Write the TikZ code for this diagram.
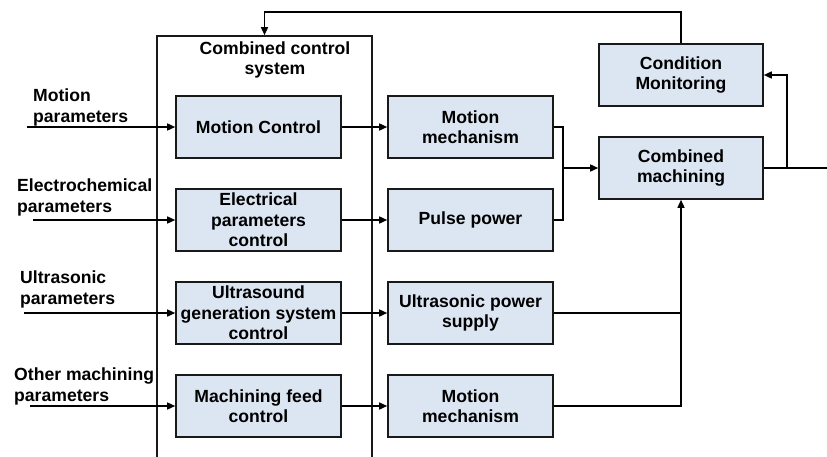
\documentclass[tikz,border=0pt]{standalone}
\usepackage{fontspec}
\setmainfont{Liberation Sans}
\usetikzlibrary{positioning, arrows.meta}

\definecolor{boxblue}{HTML}{DCE6F2}

\tikzset{
  blockbox/.style={draw=black!90, line width=1.6pt, fill=boxblue, align=center,
    minimum width=165pt, minimum height=62pt, inner sep=1pt},
  outerbox/.style={draw=black!90, line width=1.6pt, fill=white,
    minimum width=215pt, minimum height=440pt},
  arr/.style={line width=1.5pt, -{Triangle[length=8pt, width=7pt]}},
  link/.style={line width=1.5pt},
  paramlabel/.style={anchor=west, align=left, inner sep=0pt}
}

\begin{document}
\begin{tikzpicture}[x=1pt, y=-1pt, font=\fontsize{17.6}{20.5}\selectfont\bfseries]
    \clip (0,0) rectangle (827,456);
    \fill[white] (0,0) rectangle (827,456);

    % Combined control system (open at the bottom)
    \node[outerbox] (ccs) at (264.5,256) {};
    \node[align=center, inner sep=0pt] (ccstitle) at (275,60) {Combined control\\system};

    % Control blocks
    \node[blockbox] (mc)  at (258.5,127) {Motion Control};
    \node[blockbox] (epc) at (258.5,220) {Electrical\\parameters\\control};
    \node[blockbox] (ugc) at (258.5,313) {Ultrasound\\generation system\\control};
    \node[blockbox] (mfc) at (258.5,406) {Machining feed\\control};

    % Actuator blocks
    \node[blockbox] (mm1) at (470.5,127) {Motion\\mechanism};
    \node[blockbox] (pp)  at (470.5,220) {Pulse power};
    \node[blockbox] (ups) at (470.5,313) {Ultrasonic power\\supply};
    \node[blockbox] (mm2) at (470.5,406) {Motion\\mechanism};

    % Process blocks
    \node[blockbox, minimum width=164pt] (cmon)  at (681,75)  {Condition\\Monitoring};
    \node[blockbox, minimum width=164pt] (cmach) at (681,168) {Combined\\machining};

    % Input parameters
    \node[paramlabel] (lmp) at (33,107.5) {Motion\\parameters};
    \node[paramlabel] (lep) at (17,197.5) {Electrochemical\\parameters};
    \node[paramlabel] (lup) at (20,289.5) {Ultrasonic\\parameters};
    \node[paramlabel] (lop) at (14,386.5) {Other machining\\parameters};

    \coordinate (in1) at (27,127);
    \coordinate (in2) at (33,220);
    \coordinate (in3) at (24,313);
    \coordinate (in4) at (30,406);

    \draw[arr] (in1) -- (mc.west);
    \draw[arr] (in2) -- (epc.west);
    \draw[arr] (in3) -- (ugc.west);
    \draw[arr] (in4) -- (mfc.west);

    % Control to actuators
    \draw[arr] (mc.east)  -- (mm1.west);
    \draw[arr] (epc.east) -- (pp.west);
    \draw[arr] (ugc.east) -- (ups.west);
    \draw[arr] (mfc.east) -- (mm2.west);

    % Merge into combined machining
    \coordinate (j1) at (563,168);
    \draw[link] (mm1.east) -| (j1);
    \draw[link] (pp.east) -| (j1);
    \draw[arr] (j1) -- (cmach.west);
    \draw[link] (ups.east) -- (ups.east -| cmach.south);
    \draw[arr] (mm2.east) -| (cmach.south);

    % Output and monitoring
    \coordinate (out) at (830,168);
    \coordinate (br) at (787,168);
    \draw[link] (cmach.east) -- (out);
    \draw[arr] (br) |- (cmon.east);

    % Feedback
    \coordinate (fb) at (681,12);
    \draw[arr] (cmon.north) -- (fb) -| (ccs.north);

  \end{tikzpicture}
\end{document}
